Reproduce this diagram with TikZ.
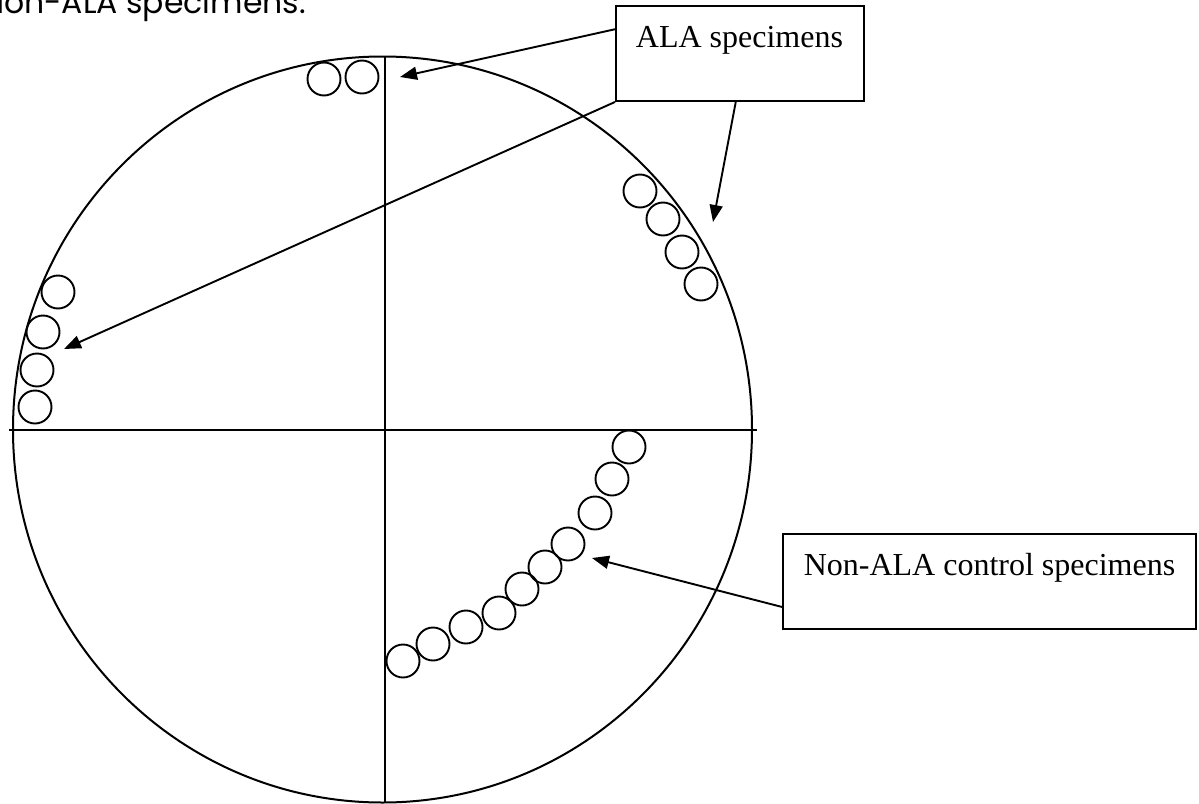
\documentclass[tikz,border=0pt]{standalone}
\usepackage{fontspec}
\setmainfont{Liberation Serif}
\newfontfamily\gothic{Poppins}
\usetikzlibrary{arrows.meta,calc}
\begin{document}
\begin{tikzpicture}[x=1pt,y=-1pt,
  dot/.style={circle,draw,line width=1.9pt,minimum size=33pt,inner sep=0pt},
  labelbox/.style={rectangle,draw,line width=1.9pt,inner sep=0pt},
  labeltext/.style={font=\fontsize{32}{36}\selectfont,inner sep=0pt,anchor=base},
  pointer/.style={line width=1.9pt,-{Triangle[length=17pt,width=13pt]}},
  axis/.style={line width=2pt}]
\useasboundingbox (0,0) rectangle (1199,803);
\clip (0,0) rectangle (1199,803);
\fill[white] (0,0) rectangle (1199,803);
% cut-off text at top
\node[font=\gothic\fontsize{31.5}{36}\selectfont,anchor=base east,inner sep=0pt] (toptext) at (306,13) {Non-ALA specimens.};
% big circle and axes
\draw[axis] (382.5,429.5) ellipse [x radius=369.5,y radius=373];
\coordinate (hl) at (9,430);
\coordinate (hr) at (757,430);
\coordinate (vt) at (385,56);
\coordinate (vb) at (385,803);
\draw[axis] (hl) -- (hr);
\draw[axis] (vt) -- (vb);
% top cluster
\node[dot] (t1) at (324,79) {};
\node[dot] (t2) at (362,77) {};
% left cluster
\node[dot] (l1) at (58,292) {};
\node[dot] (l2) at (43,332) {};
\node[dot] (l3) at (37,370) {};
\node[dot] (l4) at (35,407) {};
% right cluster
\node[dot] (r1) at (640,191) {};
\node[dot] (r2) at (663,219) {};
\node[dot] (r3) at (682,252) {};
\node[dot] (r4) at (701,284) {};
% lower cluster
\node[dot] (b1) at (629,447) {};
\node[dot] (b2) at (612,479) {};
\node[dot] (b3) at (595,513) {};
\node[dot] (b4) at (568,544) {};
\node[dot] (b5) at (545,567) {};
\node[dot] (b6) at (522,589) {};
\node[dot] (b7) at (499,613) {};
\node[dot] (b8) at (466,627) {};
\node[dot] (b9) at (433,644) {};
\node[dot] (b10) at (403,661) {};
% label boxes
\node[labelbox,minimum width=248pt,minimum height=95pt] (ala) at (740,53.5) {};
\node[labeltext] (alatext) at (739.5,47) {ALA specimens};
\node[labelbox,minimum width=413pt,minimum height=95pt] (nonala) at (989.5,581.5) {};
\node[labeltext] (nonalatext) at (989.5,575) {Non-ALA control specimens};
% arrow tips
\coordinate (tipA) at (400,77);
\coordinate (tipB) at (64,349);
\coordinate (tipC) at (713,222);
\coordinate (tipD) at (592,558);
\draw[pointer] (ala.169.7) -- (tipA);
\draw[pointer] (ala.south west) -- (tipB);
\draw[pointer] (ala.265) -- (tipC);
\draw[pointer] (nonala.187) -- (tipD);
\end{tikzpicture}
\end{document}
